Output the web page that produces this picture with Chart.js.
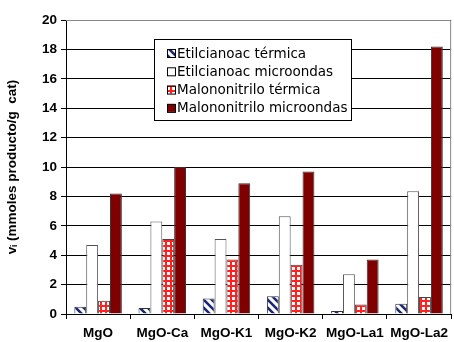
<!DOCTYPE html>
<html><head><meta charset="utf-8">
<script src="https://cdn.jsdelivr.net/npm/chart.js@4.4.0/dist/chart.umd.min.js"></script>
<style>html,body{margin:0;padding:0;background:#fff}#wrap{width:454px;height:342px}</style>
</head><body><div id="wrap"><canvas id="c" width="454" height="342"></canvas></div>
<script>
const categories = ['MgO','MgO-Ca','MgO-K1','MgO-K2','MgO-La1','MgO-La2'];
const etilTermica = [0.5, 0.4, 1.05, 1.2, 0.2, 0.7];
const etilMicroondas = [4.7, 6.3, 5.1, 6.65, 2.7, 8.35];
const malonoTermica = [0.9, 5.1, 3.7, 3.35, 0.65, 1.15];
const malonoMicroondas = [8.2, 10.0, 8.9, 9.7, 3.7, 18.2];
const yTicks = [0,2,4,6,8,10,12,14,16,18,20];
const seriesNames = ['Etilcianoac térmica','Etilcianoac microondas','Malononitrilo térmica','Malononitrilo microondas'];

function diagPattern(){
  const c=document.createElement('canvas');c.width=8;c.height=8;const g=c.getContext('2d');
  g.fillStyle='#fff';g.fillRect(0,0,8,8);
  g.strokeStyle='#1a237e';g.lineWidth=2.5;
  g.beginPath();g.moveTo(-2,-2);g.lineTo(10,10);g.moveTo(-2,6);g.lineTo(2,10);g.moveTo(6,-2);g.lineTo(10,2);g.stroke();
  return g.createPattern(c,'repeat');
}
function gridPattern(){
  const c=document.createElement('canvas');c.width=5;c.height=5;const g=c.getContext('2d');
  g.fillStyle='#fff';g.fillRect(0,0,5,5);
  g.fillStyle='#ff2020';g.fillRect(0,0,5,2);g.fillRect(0,0,2,5);
  return g.createPattern(c,'repeat');
}
const pDiag=diagPattern(), pGrid=gridPattern();
const fills=[pDiag,'#ffffff',pGrid,'#800000'];
const borders=['#333','#555','#444','#333'];

const legendPlugin={id:'boxLegend',afterDraw(chart){
  const ctx=chart.ctx;const x=154,y=39,w=197,h=81;
  ctx.save();ctx.fillStyle='#fff';ctx.fillRect(x,y,w,h);
  ctx.strokeStyle='#000';ctx.lineWidth=1;ctx.strokeRect(x+0.5,y+0.5,w,h);
  ctx.font='13.5px "DejaVu Sans", sans-serif';ctx.textBaseline='middle';
  for(let i=0;i<4;i++){
    const yy=y+14+i*18.3;
    ctx.fillStyle=fills[i];ctx.fillRect(x+13,yy-4,8,8);
    ctx.strokeStyle='#000';ctx.strokeRect(x+13.5,yy-3.5,8,8);
    ctx.fillStyle='#000';ctx.fillText(seriesNames[i],x+23,yy+1);
  }
  ctx.restore();
}};

const borderPlugin={id:'frame',afterDatasetsDraw(chart){
  const {ctx,chartArea:a}=chart;ctx.save();ctx.strokeStyle='#888';ctx.lineWidth=1;
  ctx.beginPath();ctx.moveTo(a.left,a.top+0.5);ctx.lineTo(a.right-0.5,a.top+0.5);ctx.lineTo(a.right-0.5,a.bottom);ctx.stroke();ctx.restore();
}};

const seriesData=[etilTermica,etilMicroondas,malonoTermica,malonoMicroondas];
new Chart(document.getElementById('c'),{
  type:'bar',
  data:{labels:categories,datasets:seriesData.map((d,i)=>({label:seriesNames[i],data:d,backgroundColor:fills[i],borderColor:borders[i],borderWidth:1,categoryPercentage:0.74,barPercentage:1}))},
  options:{responsive:false,animation:false,
    layout:{padding:{top:20,right:1,left:4,bottom:0}},
    plugins:{legend:{display:false},tooltip:{enabled:false}},
    scales:{
      x:{afterFit(s){s.height=28;},
         grid:{drawOnChartArea:false,drawTicks:true,tickLength:5,color:'#000',offset:true},border:{color:'#000',width:1},
         ticks:{color:'#000',font:{family:'Liberation Sans, Arial',size:13.5,weight:'bold'},padding:6}},
      y:{min:0,max:20,afterBuildTicks(s){s.ticks=yTicks.map(v=>({value:v}));},
         afterFit(s){s.width=62;},
         grid:{color:'#000',tickLength:5,drawTicks:true},border:{color:'#000',width:1},
         ticks:{color:'#000',font:{family:'Liberation Sans, Arial',size:13.5,weight:'bold'},padding:4},
         title:{display:true,text:'vᵢ (mmoles producto/g  cat)',color:'#000',font:{family:'Liberation Sans, Arial',size:13.5,weight:'bold'},padding:{top:0,bottom:0}}}
    }},
  plugins:[legendPlugin,borderPlugin]
});
</script></body></html>
